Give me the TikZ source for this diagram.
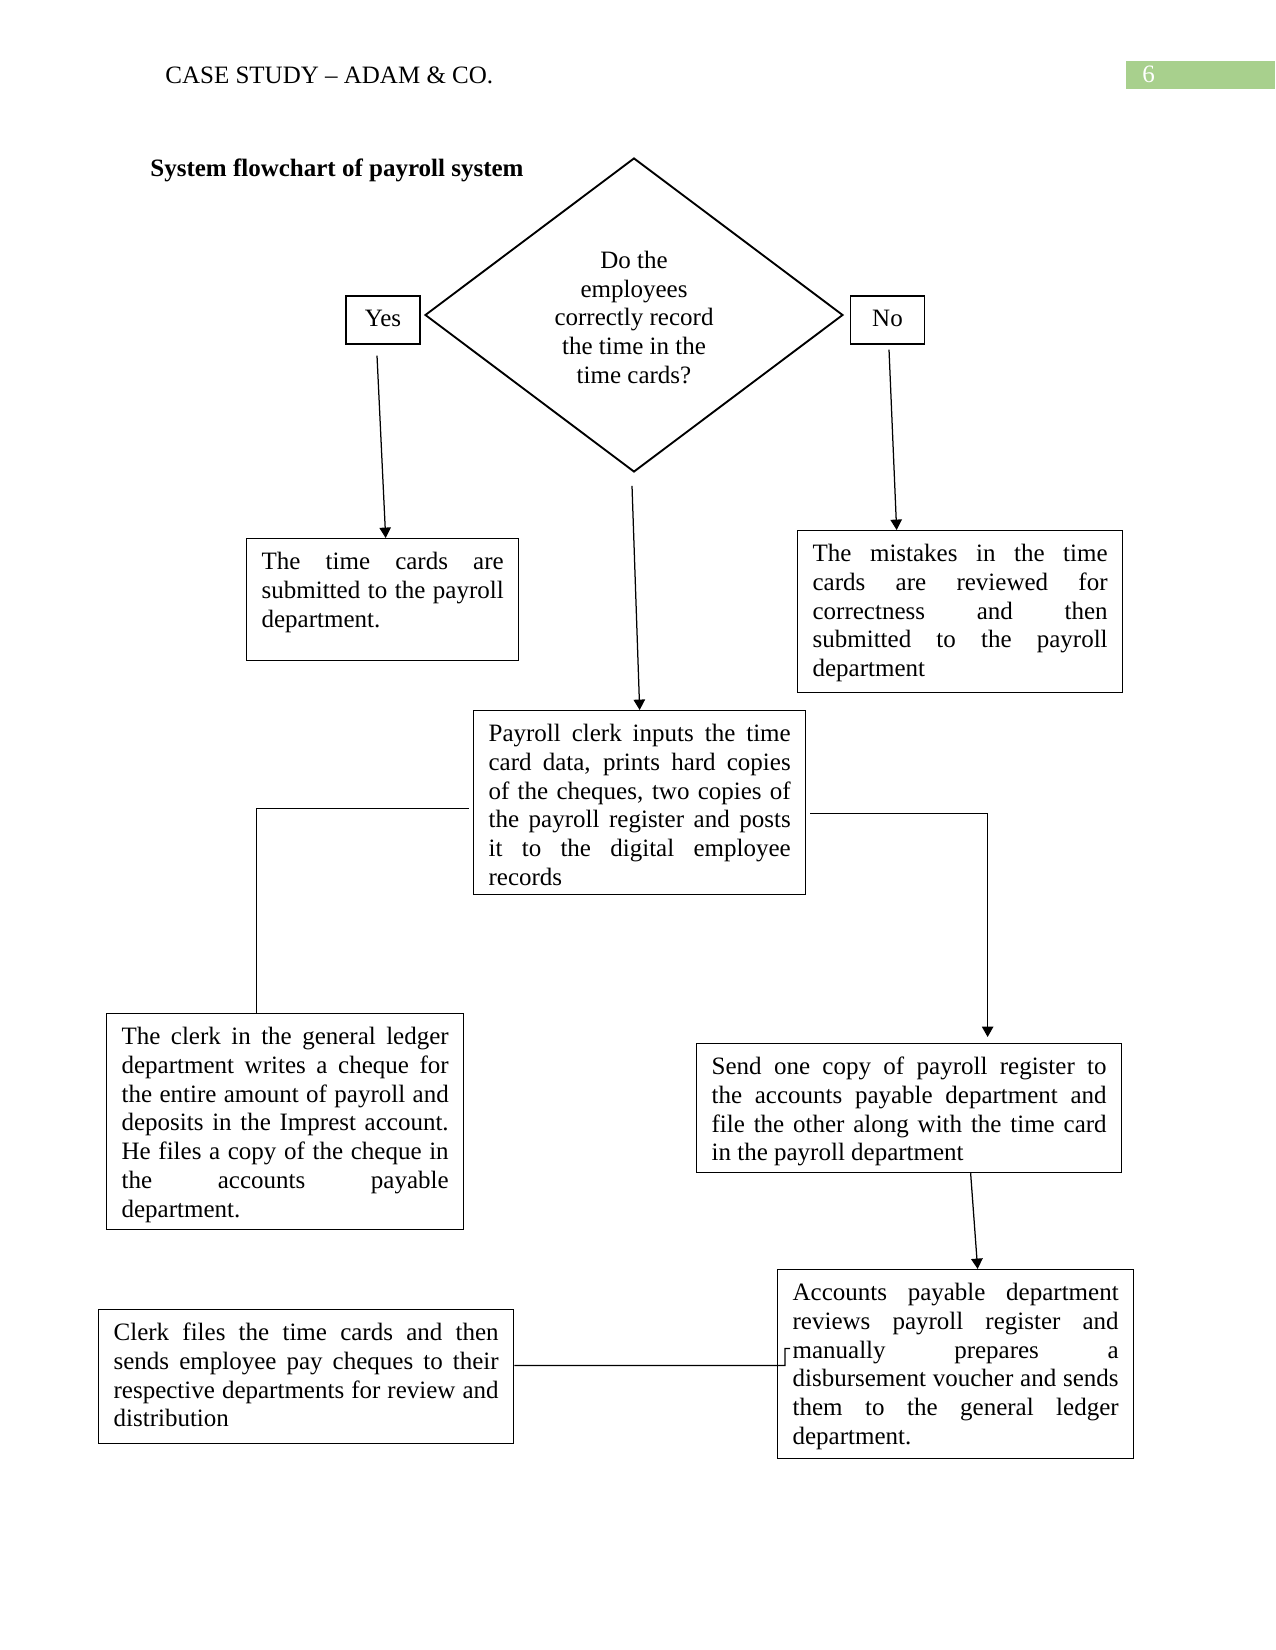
\documentclass[tikz,border=0pt]{standalone}
\usepackage{fontspec}
\setmainfont{Liberation Serif}
\usetikzlibrary{shapes.geometric,arrows.meta,calc}
\definecolor{pagegreen}{HTML}{A8D08D}
\hyphenpenalty=10000
\exhyphenpenalty=10000
\tolerance=9999
\hbadness=10000
\tikzset{
  flowbox/.style={draw, line width=0.6pt, anchor=north west, align=justify,
    inner xsep=7.2pt, inner ysep=3.6pt, text height=11.25pt,
    font=\fontsize{12}{13.8}\selectfont},
  answer/.style={draw, line width=0.6pt, minimum width=35.5pt, minimum height=23pt,
    text height=7pt, text depth=1pt, font=\fontsize{12}{13.8}\selectfont},
  plaintext/.style={inner sep=0pt, anchor=base west, font=\fontsize{12}{13.8}\selectfont},
  flowline/.style={line width=0.6pt},
  flowarrow/.style={line width=0.6pt, -{Triangle[width=5.5pt,length=5pt]}}
}
\begin{document}
\begin{tikzpicture}[x=0.48pt, y=-0.48pt]
\useasboundingbox (0,0) rectangle (1275,1650);

% page header
\node[plaintext] (header) at (165,84) {CASE STUDY – ADAM \& CO.};
\node[fill=pagegreen, anchor=north west, inner sep=0pt, minimum width=71.5pt, minimum height=13.4pt] (pagebox) at (1126,61) {};
\node[plaintext, text=white] (pagenum) at (1142,83) {6};
\node[plaintext, font=\fontsize{12}{13.8}\selectfont\bfseries] (title) at (150,177) {System flowchart of payroll system};

% decision
\node[draw, diamond, line width=0.9pt, minimum width=200.6pt, minimum height=150.7pt, inner sep=0pt] (check) at (634,315) {};
\node[align=center, font=\fontsize{12}{13.8}\selectfont] (question) at ($(check.center)+(0,2.5)$)
  {Do the\\employees\\correctly record\\the time in the\\time cards?};
\node[answer] (yes) at (383,320) {Yes};
\node[answer] (no) at (887.5,320) {No};

% steps
\node[flowbox, text width=116.2pt, text depth=40.15pt] (cards) at (246,538)
  {The time cards are\linebreak submitted to the payroll\linebreak department.};
\node[flowbox, text width=141.6pt, text depth=59.35pt] (mistakes) at (797,530)
  {The mistakes in the time\linebreak cards are reviewed for\linebreak correctness and then\linebreak submitted to the payroll\linebreak department};
\node[flowbox, text width=145pt, text depth=69.85pt] (payroll) at (473,710)
  {Payroll clerk inputs the time\linebreak card data, prints hard copies\linebreak of the cheques, two copies of\linebreak the payroll register and posts\linebreak it to the digital employee\linebreak records};
\node[flowbox, text width=157pt, text depth=85.25pt] (ledger) at (106,1013)
  {The clerk in the general ledger\linebreak department writes a cheque for\linebreak the entire amount of payroll and\linebreak deposits in the Imprest account.\linebreak He files a copy of the cheque in\linebreak the accounts payable\linebreak department.};
\node[flowbox, text width=189.6pt, text depth=43.45pt] (send) at (696,1043)
  {Send one copy of payroll register to\linebreak the accounts payable department and\linebreak file the other along with the time card\linebreak in the payroll department};
\node[flowbox, text width=156.5pt, text depth=72.25pt] (accounts) at (777,1269)
  {Accounts payable department\linebreak reviews payroll register and\linebreak manually prepares a\linebreak disbursement voucher and sends\linebreak them to the general ledger\linebreak department.};
\node[flowbox, text width=184.8pt, text depth=45.85pt] (clerk) at (98,1309)
  {Clerk files the time cards and then\linebreak sends employee pay cheques to their\linebreak respective departments for review and\linebreak distribution};

% connectors
\draw[flowarrow] ($(yes.south)+(-6,11)$) -- ($(cards.north)+(3,0)$);
\draw[flowarrow] ($(no.south)+(1.5,5)$) -- ($(mistakes.north)+(-63.5,0)$);
\draw[flowarrow] ($(check.south)+(-2,13)$) -- (payroll.north);
\draw[flowline] ($(payroll.west)+(-4,6)$) -| ($(ledger.north)+(-28.5,0)$);
\draw[flowarrow] ($(payroll.east)+(4,11)$) -| ($(send.north)+(78.5,-6)$);
\draw[flowarrow] ($(send.south)+(61.5,0)$) -- ($(accounts.north)+(22,0)$);
\draw[flowline] ($(clerk.east)+(0,-11)$) -- ($(accounts.west)+(8,1.5)$) |- ++(5,-17);

\end{tikzpicture}
\end{document}
